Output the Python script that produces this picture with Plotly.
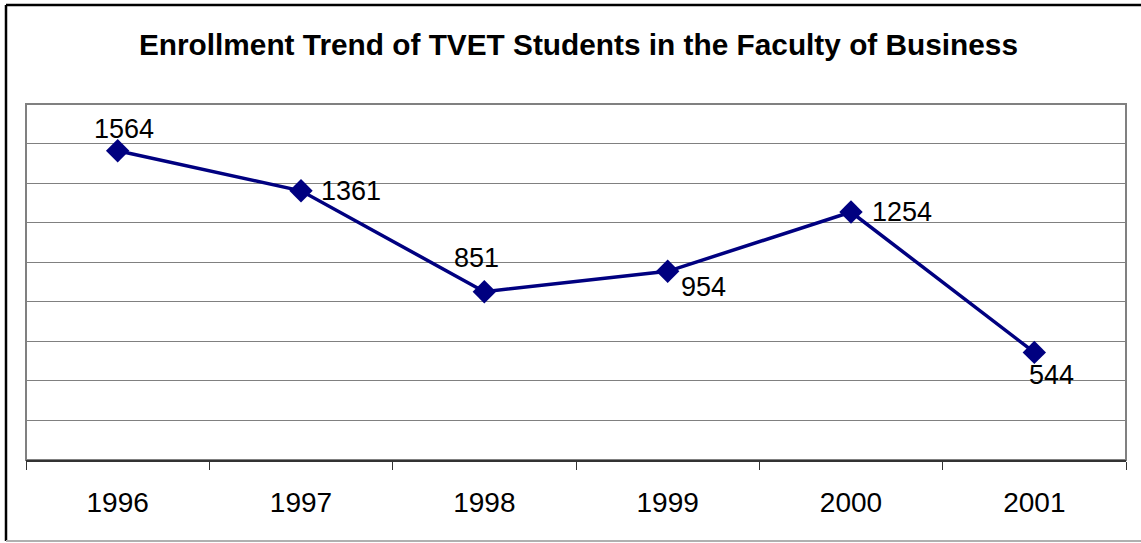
import plotly.graph_objects as go

years = ["1996", "1997", "1998", "1999", "2000", "2001"]
enrollment = [1564, 1361, 851, 954, 1254, 544]

# label offsets in pixels (style only): (dx, dy) from the marker, dy positive = up
label_offsets = [(6, 22), (50, 0), (-8, 34), (36, -16), (51, 0), (17, -23)]

FONT = "Liberation Sans, Arial, sans-serif"

fig = go.Figure()
fig.add_trace(go.Scatter(
    x=years, y=enrollment, mode="lines+markers",
    line=dict(color="#000080", width=3.5),
    marker=dict(symbol="diamond", size=18, color="#000080"),
    cliponaxis=False, showlegend=False, hoverinfo="skip",
))

annotations = []
for i, (v, (dx, dy)) in enumerate(zip(enrollment, label_offsets)):
    annotations.append(dict(x=i, y=v, xref="x", yref="y", text=str(v), showarrow=False,
                            xanchor="center", yanchor="middle", xshift=dx, yshift=dy,
                            font=dict(family=FONT, size=27, color="black")))

PW, PH, L, T = 1100, 356, 26, 104
def px(x):
    return (x - L) / PW
def py(y):
    return (T + PH - y) / PH

fig.update_layout(
    width=1141, height=543,
    margin=dict(l=L, r=1141 - L - PW, t=T, b=543 - T - PH),
    paper_bgcolor="white", plot_bgcolor="white",
    title=dict(text="<b>Enrollment Trend of TVET Students in the Faculty of Business</b>",
               x=0.507, xanchor="center", y=0.917, yanchor="middle",
               font=dict(family=FONT, size=29.8, color="black")),
    font=dict(family=FONT, color="black"),
    xaxis=dict(type="category", range=[-0.5, 5.5], showgrid=False,
               showline=True, linecolor="#333333", linewidth=2,
               ticks="outside", ticklen=8, tickcolor="#333333", tickson="boundaries",
               ticklabelstandoff=16,
               tickfont=dict(family=FONT, size=28, color="black"), fixedrange=True),
    yaxis=dict(range=[0, 1800], dtick=200, showgrid=True, gridcolor="#808080", gridwidth=1,
               showticklabels=False, ticks="", zeroline=False,
               showline=False, fixedrange=True),
    annotations=annotations,
    shapes=[
        dict(type="rect", xref="paper", yref="paper", x0=0, x1=1, y0=0, y1=1,
             line=dict(color="#808080", width=2), layer="below"),
        dict(type="line", xref="paper", yref="paper", x0=px(6), x1=px(6),
             y0=py(541), y1=py(5), line=dict(color="black", width=2.5)),
        dict(type="line", xref="paper", yref="paper", x0=px(6), x1=px(1141),
             y0=py(5), y1=py(5), line=dict(color="black", width=2.5)),
        dict(type="line", xref="paper", yref="paper", x0=px(6), x1=px(1141),
             y0=py(541), y1=py(541), line=dict(color="#b0b0b0", width=2)),
    ],
)

fig.write_html("out.html", config={"displayModeBar": False},
               post_script="document.body.style.margin='0px';")
